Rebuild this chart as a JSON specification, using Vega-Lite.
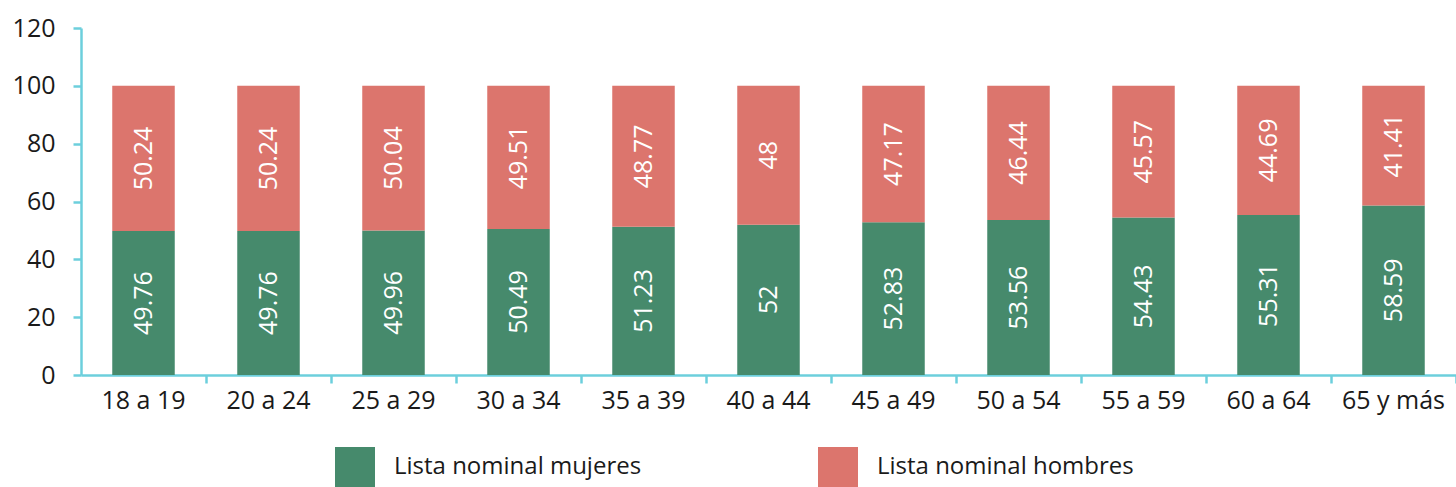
{
  "$schema": "https://vega.github.io/schema/vega-lite/v6.json",
  "autosize": "none",
  "width": 1375,
  "height": 347,
  "padding": {"left": 81, "top": 28, "right": 0, "bottom": 112},
  "background": "white",
  "config": {
    "font": "Open Sans",
    "view": {"stroke": null},
    "axis": {"grid": false, "domainColor": "#6ccfdc", "tickColor": "#6ccfdc", "domainWidth": 2.5, "tickWidth": 2.5, "tickSize": 8, "labelFont": "Open Sans", "labelFontSize": 25, "labelColor": "#1a1a1a", "title": null}
  },
  "data": {
    "values": [
      {"edad": "18 a 19", "serie": "Lista nominal mujeres", "orden": 1, "valor": 49.76},
      {"edad": "20 a 24", "serie": "Lista nominal mujeres", "orden": 1, "valor": 49.76},
      {"edad": "25 a 29", "serie": "Lista nominal mujeres", "orden": 1, "valor": 49.96},
      {"edad": "30 a 34", "serie": "Lista nominal mujeres", "orden": 1, "valor": 50.49},
      {"edad": "35 a 39", "serie": "Lista nominal mujeres", "orden": 1, "valor": 51.23},
      {"edad": "40 a 44", "serie": "Lista nominal mujeres", "orden": 1, "valor": 52},
      {"edad": "45 a 49", "serie": "Lista nominal mujeres", "orden": 1, "valor": 52.83},
      {"edad": "50 a 54", "serie": "Lista nominal mujeres", "orden": 1, "valor": 53.56},
      {"edad": "55 a 59", "serie": "Lista nominal mujeres", "orden": 1, "valor": 54.43},
      {"edad": "60 a 64", "serie": "Lista nominal mujeres", "orden": 1, "valor": 55.31},
      {"edad": "65 y más", "serie": "Lista nominal mujeres", "orden": 1, "valor": 58.59},
      {"edad": "18 a 19", "serie": "Lista nominal hombres", "orden": 2, "valor": 50.24},
      {"edad": "20 a 24", "serie": "Lista nominal hombres", "orden": 2, "valor": 50.24},
      {"edad": "25 a 29", "serie": "Lista nominal hombres", "orden": 2, "valor": 50.04},
      {"edad": "30 a 34", "serie": "Lista nominal hombres", "orden": 2, "valor": 49.51},
      {"edad": "35 a 39", "serie": "Lista nominal hombres", "orden": 2, "valor": 48.77},
      {"edad": "40 a 44", "serie": "Lista nominal hombres", "orden": 2, "valor": 48},
      {"edad": "45 a 49", "serie": "Lista nominal hombres", "orden": 2, "valor": 47.17},
      {"edad": "50 a 54", "serie": "Lista nominal hombres", "orden": 2, "valor": 46.44},
      {"edad": "55 a 59", "serie": "Lista nominal hombres", "orden": 2, "valor": 45.57},
      {"edad": "60 a 64", "serie": "Lista nominal hombres", "orden": 2, "valor": 44.69},
      {"edad": "65 y más", "serie": "Lista nominal hombres", "orden": 2, "valor": 41.41}
    ]
  },
  "transform": [
    {"stack": "valor", "groupby": ["edad"], "as": ["v0", "v1"], "sort": [{"field": "orden", "order": "ascending"}]},
    {"calculate": "(datum.v0 + datum.v1) / 2", "as": "mid"}
  ],
  "encoding": {
    "x": {
      "field": "edad", "type": "nominal", "sort": null,
      "scale": {"paddingInner": 0.5, "paddingOuter": 0.25},
      "axis": {"bandPosition": 1.5, "labelAngle": 0, "labelPadding": 5}
    }
  },
  "layer": [
    {
      "mark": {"type": "bar"},
      "encoding": {
        "y": {"field": "v0", "type": "quantitative", "scale": {"domain": [0, 120], "nice": false},
              "axis": {"values": [0, 20, 40, 60, 80, 100, 120], "labelPadding": 18}},
        "y2": {"field": "v1"},
        "color": {
          "field": "serie", "type": "nominal",
          "scale": {"domain": ["Lista nominal mujeres", "Lista nominal hombres"], "range": ["#468a6c", "#dc756d"]},
          "legend": {
            "title": null, "orient": "none", "direction": "horizontal", "legendX": 254, "legendY": 419,
            "symbolType": "square", "symbolSize": 1600, "symbolStrokeWidth": 0, "symbolOpacity": 1,
            "labelFontSize": 24, "labelFont": "Open Sans", "labelColor": "#1a1a1a", "labelOffset": 19,
            "columnPadding": 176, "labelLimit": 400
          }
        }
      }
    },
    {
      "mark": {"type": "text", "angle": 270, "align": "center", "baseline": "middle", "color": "white", "fontSize": 25, "font": "Open Sans"},
      "encoding": {
        "y": {"field": "mid", "type": "quantitative"},
        "text": {"field": "valor", "type": "quantitative"}
      }
    }
  ]
}
